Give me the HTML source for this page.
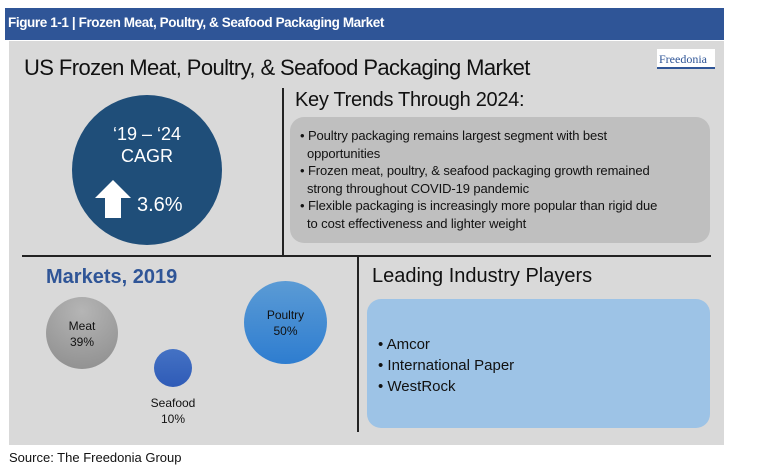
<!DOCTYPE html>
<html><head><style>
body{margin:0;width:771px;height:468px;background:#fff;font-family:"Liberation Sans",sans-serif;position:relative;overflow:hidden}
div{position:absolute;box-sizing:border-box}
.t{white-space:nowrap}
</style></head><body>
<div style="left:5px;top:8px;width:719px;height:32px;background:#2f5597;"></div>
<div class="t" style="left:8px;top:15px;color:#fff;font-size:13.5px;font-weight:bold;letter-spacing:-0.4px">Figure 1-1 | Frozen Meat, Poultry, &amp; Seafood Packaging Market</div>
<div style="left:9px;top:41px;width:715px;height:404px;background:#d9d9d9"></div>
<div class="t" style="left:24px;top:55px;font-size:22px;color:#111;letter-spacing:-0.6px">US Frozen Meat, Poultry, &amp; Seafood Packaging Market</div>
<div style="left:657px;top:49px;width:58px;height:20px;background:#fff;border-bottom:2px solid #2f5597"></div>
<div class="t" style="left:659px;top:52px;font-family:'Liberation Serif',serif;font-size:12px;color:#2f5597">Freedonia</div>
<div style="left:282px;top:88px;width:2px;height:168px;background:#222"></div>
<div style="left:22px;top:255px;width:689px;height:2px;background:#222"></div>
<div style="left:357px;top:256px;width:2px;height:176px;background:#222"></div>
<div class="t" style="left:295px;top:89px;font-size:20px;color:#111;letter-spacing:-0.3px">Key Trends Through 2024:</div>
<div style="left:72px;top:95px;width:150px;height:150px;border-radius:50%;background:#1f4e79"></div>
<div class="t" style="left:72px;top:123px;width:150px;text-align:center;color:#fff;font-size:18px;line-height:22px">‘19 – ‘24<br>CAGR</div>
<svg style="position:absolute;left:93px;top:180px" width="40" height="40"><polygon points="20,0 38,18 28,18 28,38 12,38 12,18 2,18" fill="#fff"/></svg>
<div class="t" style="left:137px;top:194px;color:#fff;font-size:20px">3.6%</div>
<div style="left:290px;top:117px;width:420px;height:126px;border-radius:14px;background:#bfbfbf"></div>
<div style="left:300px;top:127px;width:400px;font-size:13px;line-height:17.5px;color:#111;letter-spacing:-0.1px">
• Poultry packaging remains largest segment with best<br>&nbsp;&nbsp;opportunities<br>• Frozen meat, poultry, &amp; seafood packaging growth remained<br>&nbsp;&nbsp;strong throughout COVID-19 pandemic<br>• Flexible packaging is increasingly more popular than rigid due<br>&nbsp;&nbsp;to cost effectiveness and lighter weight</div>
<div class="t" style="left:46px;top:266px;font-size:20px;font-weight:bold;color:#2f5597">Markets, 2019</div>
<div style="left:46px;top:297px;width:72px;height:72px;border-radius:50%;background:radial-gradient(circle at 50% 20%,#b5b5b5,#8c8c8c)"></div>
<div class="t" style="left:46px;top:318px;width:72px;text-align:center;font-size:12px;line-height:16px;color:#111">Meat<br>39%</div>
<div style="left:154px;top:349px;width:38px;height:38px;border-radius:50%;background:linear-gradient(#4472c4,#2f5bb7)"></div>
<div class="t" style="left:143px;top:395px;width:60px;text-align:center;font-size:12px;line-height:16px;color:#111">Seafood<br>10%</div>
<div style="left:244px;top:281px;width:83px;height:83px;border-radius:50%;background:linear-gradient(#5b9bd5,#2e7dd0)"></div>
<div class="t" style="left:244px;top:307px;width:83px;text-align:center;font-size:12px;line-height:16px;color:#111">Poultry<br>50%</div>
<div class="t" style="left:372px;top:265px;font-size:20px;color:#111">Leading Industry Players</div>
<div style="left:367px;top:299px;width:343px;height:129px;border-radius:14px;background:#9dc3e6"></div>
<div style="left:378px;top:334px;font-size:15px;line-height:21px;color:#111">• Amcor<br>• International Paper<br>• WestRock</div>
<div class="t" style="left:9px;top:450px;font-size:13px;color:#111">Source: The Freedonia Group</div>
</body></html>
